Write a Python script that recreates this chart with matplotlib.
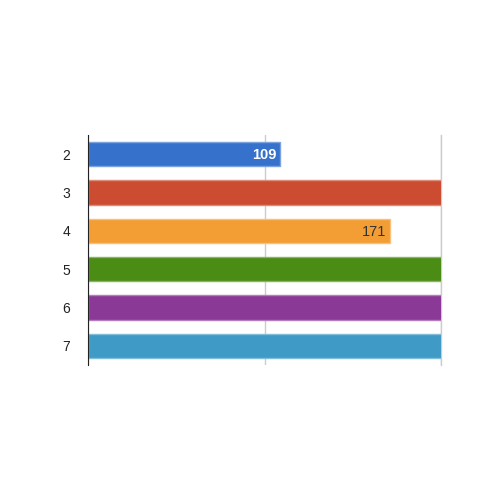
import matplotlib
matplotlib.use("Agg")
import matplotlib.pyplot as plt
import matplotlib.colors as mcolors

categories = ["2", "3", "4", "5", "6", "7"]
values = [109, 240, 171, 260, 230, 250]
colors = ["#3672cc", "#cc4c32", "#f39e34", "#4a8c14", "#8a3a96", "#3f9ac5"]
label_colors = {0: "white", 2: "#333333"}

plt.rcParams["font.family"] = ["Liberation Sans", "DejaVu Sans"]

fig = plt.figure(figsize=(5, 5), dpi=100)
ax = fig.add_axes([0.176, 0.27, 0.706, 0.46])

ypos = list(range(len(categories)))
for i, (v, c) in enumerate(zip(values, colors)):
    edge = mcolors.to_rgb(c)
    edge = tuple(e + (1 - e) * 0.35 for e in edge)
    ax.barh(i, v, height=0.63, color=c, edgecolor=edge, linewidth=1, zorder=2)

ax.set_xlim(0, 200)
ax.set_ylim(len(categories) - 0.5, -0.5)
ax.set_yticks(ypos)
ax.set_yticklabels(categories, fontsize=10, color="#222222")
ax.set_xticks([0, 100, 200])
ax.set_xticklabels([])
ax.tick_params(length=0, pad=13)
ax.xaxis.grid(True, color="#cccccc", linewidth=1, zorder=0)
# right-hand gridline sits on the axes edge, draw it unclipped
ax.axvline(200, color="#cccccc", linewidth=1, clip_on=False, zorder=1)

for s in ["top", "right", "bottom"]:
    ax.spines[s].set_visible(False)
ax.spines["left"].set_color("#222222")
ax.spines["left"].set_zorder(3)

for i, col in label_colors.items():
    weight = "bold" if col == "white" else "normal"
    ax.text(values[i] - 2.3, i + 0.02, str(values[i]), ha="right", va="center",
            color=col, fontsize=10.5, fontweight=weight, zorder=4)

fig.savefig("out.png")
